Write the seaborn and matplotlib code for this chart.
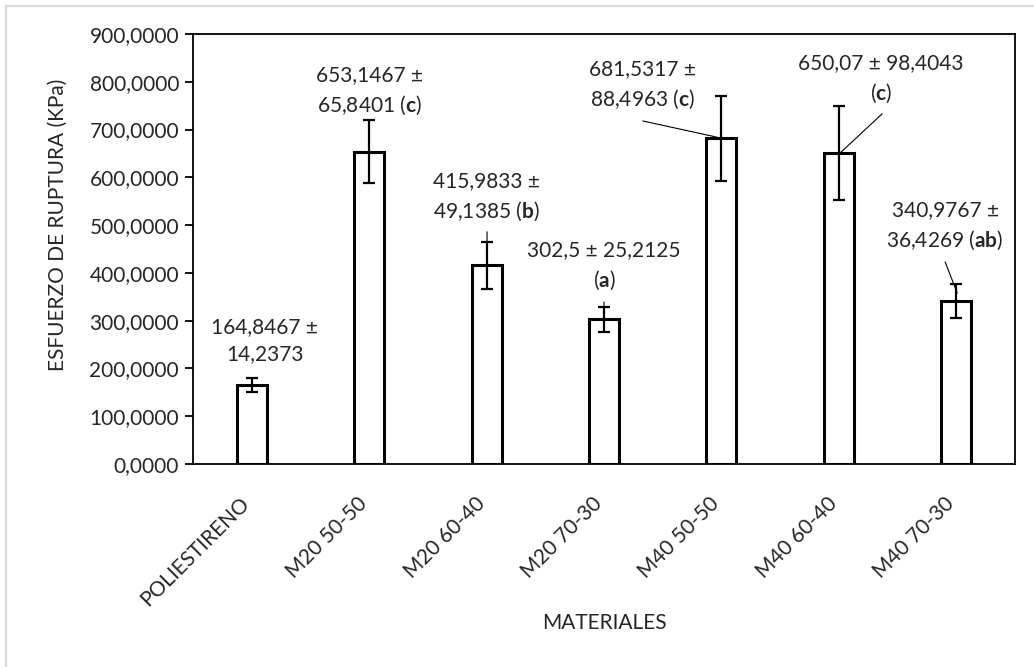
import numpy as np
import pandas as pd
import seaborn as sns
import matplotlib.pyplot as plt
import matplotlib.transforms as mtransforms
from matplotlib.lines import Line2D

# Data
materiales = ['POLIESTIRENO', 'M20 50-50', 'M20 60-40', 'M20 70-30',
              'M40 50-50', 'M40 60-40', 'M40 70-30']
esfuerzo = [164.8467, 653.1467, 415.9833, 302.5, 681.5317, 650.07, 340.9767]
desv = [14.2373, 65.8401, 49.1385, 25.2125, 88.4963, 98.4043, 36.4269]
letras = ['', 'c', 'b', 'a', 'c', 'c', 'ab']
y_ticks = [0, 100, 200, 300, 400, 500, 600, 700, 800, 900]

df = pd.DataFrame({'material': materiales, 'esfuerzo': esfuerzo})

sns.set_style('ticks')
plt.rcParams['font.family'] = ['Lato', 'DejaVu Sans']
plt.rcParams['mathtext.fontset'] = 'custom'
plt.rcParams['mathtext.rm'] = 'Lato'
plt.rcParams['mathtext.bf'] = 'Lato:bold'
plt.rcParams['mathtext.it'] = 'Lato:italic'

FS = 15

def fmt(v):
    s = f'{v:.4f}'.rstrip('0').rstrip('.')
    return s.replace('.', ',')

fig = plt.figure(figsize=(10.34, 6.67), dpi=100)
ax = fig.add_axes([193 / 1034, 1 - 464 / 667, (1015 - 193) / 1034, (464 - 34) / 667])

sns.barplot(data=df, x='material', y='esfuerzo', ax=ax, color='white',
            edgecolor='black', linewidth=2.2, width=0.255, errorbar=None)
ax.errorbar(np.arange(len(materiales)), esfuerzo, yerr=desv, fmt='none',
            ecolor='black', elinewidth=1.6, capsize=4.5, capthick=1.6, zorder=5)

ax.set_ylim(0, 900)
ax.set_xlim(-0.5, len(materiales) - 0.5)
ax.set_yticks(y_ticks)
ax.set_yticklabels([f'{t:.4f}'.replace('.', ',') for t in y_ticks], fontsize=FS)
ax.tick_params(axis='y', length=6, width=1.3, color='black', pad=4)
ax.tick_params(axis='x', length=0, pad=26)
ax.set_xticks(range(len(materiales)))
ax.set_xticklabels(materiales, rotation=45, ha='right', va='center',
                   rotation_mode='anchor', fontsize=FS)
shift = mtransforms.ScaledTranslation(-5 / 100, 0, fig.dpi_scale_trans)
for lab in ax.get_xticklabels():
    lab.set_transform(lab.get_transform() + shift)
for sp in ax.spines.values():
    sp.set_visible(True)
    sp.set_linewidth(1.3)
    sp.set_color('black')

ax.set_ylabel('ESFUERZO DE RUPTURA (KPa)', fontsize=FS, va='center')
ax.yaxis.set_label_coords(-0.164, 0.556)
ax.set_xlabel('MATERIALES', fontsize=FS, va='center')
ax.xaxis.set_label_coords(0.5, -0.37)

# label text block centres (data coords), as placed in the original
label_pos = [(0.11, 259), (1.0, 781), (2.0, 559), (3.0, 414),
             (3.33, 793), (5.36, 806), (5.905, 498)]
label_lines = [
    '{m} ±\n{s}',
    '{m} ±\n{s} ($\\mathbf{{{l}}}$)',
    '{m} ±\n{s} ($\\mathbf{{{l}}}$)',
    '{m} ± {s}\n($\\mathbf{{{l}}}$)',
    '{m} ±\n{s} ($\\mathbf{{{l}}}$)',
    '{m} ± {s}\n($\\mathbf{{{l}}}$)',
    '{m} ±\n{s} ($\\mathbf{{{l}}}$)',
]
for i in range(len(materiales)):
    txt = label_lines[i].format(m=fmt(esfuerzo[i]), s=fmt(desv[i]), l=letras[i])
    ax.text(label_pos[i][0], label_pos[i][1], txt, ha='center', va='center',
            fontsize=FS, linespacing=1.45, zorder=6)

# leader lines from label to bar
leaders = [((3.33, 718), (3.963, 684)), ((5.369, 733), (5.011, 651)),
           ((5.905, 423), (6.008, 358)), ((2.004, 486), (2.004, 465)),
           ((3.0, 339), (3.0, 328))]
for start, end in leaders:
    ax.annotate('', xy=end, xytext=start,
                arrowprops=dict(arrowstyle='-', color='black', lw=0.8,
                                shrinkA=0, shrinkB=0))

# light grey frame of the chart area (left and top edges visible)
fig.add_artist(Line2D([6 / 1034, 6 / 1034], [0, 1 - 6 / 667], color='#d9d9d9', lw=1.6))
fig.add_artist(Line2D([6 / 1034, 1], [1 - 6 / 667, 1 - 6 / 667], color='#d9d9d9', lw=1.6))

fig.savefig('out.png', dpi=100)
